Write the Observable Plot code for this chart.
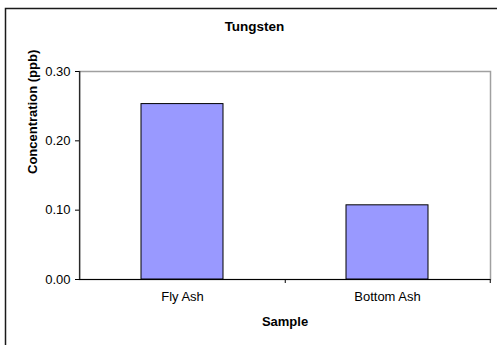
<!DOCTYPE html>
<html>
<head>
<meta charset="utf-8">
<script src="https://cdn.jsdelivr.net/npm/d3@7"></script>
<script src="https://cdn.jsdelivr.net/npm/@observablehq/plot@0.6"></script>
<style>
  html, body { margin: 0; padding: 0; background: #fff; overflow: hidden; }
</style>
</head>
<body>
<div id="wrap"></div>
<script>
// Tungsten concentration by sample type
const categories = ["Fly Ash", "Bottom Ash"];
const values = [0.253, 0.107];
const yTicks = [0, 0.1, 0.2, 0.3];
const title = "Tungsten";
const xTitle = "Sample";
const yTitle = "Concentration (ppb)";

const data = categories.map((c, i) => ({sample: c, value: values[i]}));

const W = 497, H = 345;
const mL = 79, mR = 7, mT = 71, mB = 66;
const halfStep = (W - mL - mR) / categories.length / 2;
const font = "'Liberation Sans', Arial, sans-serif";

// outer chart-area border: left and top edges only, the rest runs off the canvas
const chartBorder = (index, scales, values, dims) =>
  d3.create("svg:path")
    .attr("d", `M5.5,${dims.height}V8.5H${dims.width}`)
    .attr("fill", "none")
    .attr("stroke", "#1a1a1a")
    .attr("stroke-width", 1.5)
    .node();

const chart = Plot.plot({
  width: W,
  height: H,
  marginLeft: mL,
  marginRight: mR,
  marginTop: mT,
  marginBottom: mB,
  style: {fontFamily: font, fontSize: "13px", color: "#000", background: "#fff"},
  x: {domain: categories, paddingInner: 0.6, paddingOuter: 0.3, axis: null},
  y: {domain: [0, 0.3], axis: null},
  marks: [
    chartBorder,
    // gray plot-area outline (top and right remain visible)
    Plot.frame({stroke: "#a0a0a0", strokeWidth: 1.5}),
    Plot.barY(data, {x: "sample", y: "value", fill: "#9999ff", stroke: "#000", strokeWidth: 1}),
    // value axis line on the left edge of the first band
    Plot.ruleX([categories[0]], {x: d => d, y1: 0, y2: 0.3, dx: -halfStep, stroke: "#000"}),
    // category axis baseline
    Plot.ruleY([0], {stroke: "#000"}),
    // tick marks between categories and at the right end
    Plot.ruleX(categories, {x: d => d, y1: 0, y2: 0, insetBottom: -4, dx: halfStep, stroke: "#000"}),
    Plot.axisY({ticks: yTicks, tickFormat: d3.format(".2f"), tickSize: 4, tickPadding: 5, label: null, stroke: "#000", fontSize: 13}),
    // category labels
    Plot.text(categories, {x: d => d, frameAnchor: "bottom", lineAnchor: "middle", dy: 17.5, fontSize: 13}),
    // titles
    Plot.text([title], {frameAnchor: "top", lineAnchor: "middle", dx: -30.5, dy: -44.5, fontWeight: "bold", fontSize: 13.5}),
    Plot.text([xTitle], {frameAnchor: "bottom", lineAnchor: "middle", dy: 42.7, fontWeight: "bold", fontSize: 13}),
    Plot.text([yTitle], {frameAnchor: "left", rotate: -90, dx: -47, dy: -1.5, fontWeight: "bold", fontSize: 13})
  ]
});

document.getElementById("wrap").append(chart);
</script>
</body>
</html>
